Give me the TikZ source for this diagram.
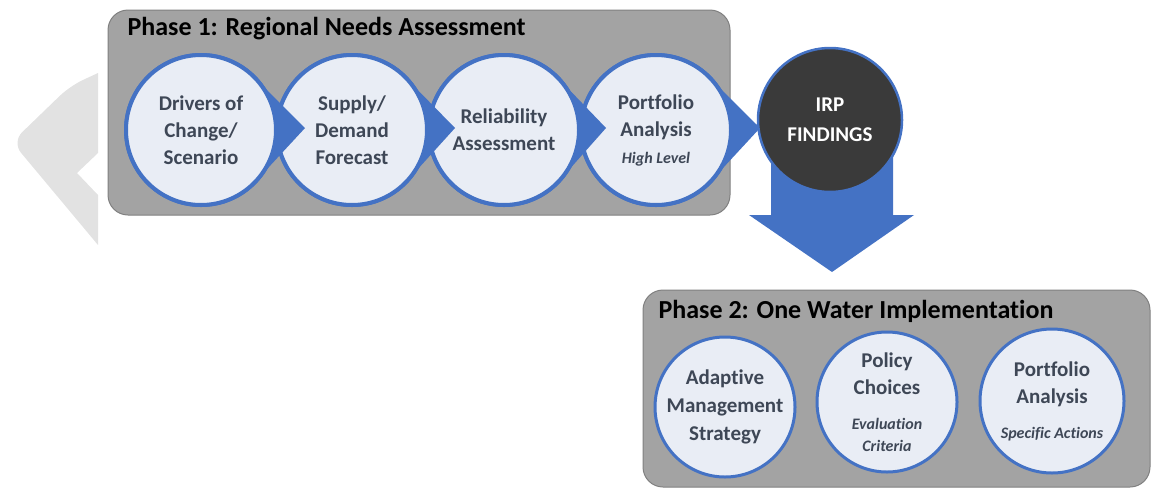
\documentclass[tikz,border=0pt]{standalone}
\usepackage{fontspec}
\setmainfont{Carlito}[Ligatures=NoCommon]
\usetikzlibrary{calc}

\definecolor{phgray}{HTML}{A3A3A3}
\definecolor{phline}{HTML}{808080}
\definecolor{stageblue}{HTML}{4472C4}
\definecolor{stagefill}{HTML}{E9EDF5}
\definecolor{txtgray}{HTML}{3E4756}
\definecolor{irpdark}{HTML}{3A3A3A}
\definecolor{chevgray}{HTML}{E2E2E2}

\newcommand{\subtxt}[1]{{\fontsize{16}{20}\selectfont\itshape #1}}

\begin{document}
\begin{tikzpicture}[x=1pt,y=-1pt,
  phasebox/.style={draw=phline, line width=1pt, fill=phgray, rounded corners=20pt},
  phtitle/.style={anchor=west, font=\fontsize{26}{30}\selectfont\bfseries, text=black},
  stage/.style={circle, draw=stageblue, fill=stagefill, line width=4pt, minimum size=150pt,
    inner sep=0pt, outer sep=0pt, align=center, text=txtgray, font=\fontsize{21}{27}\selectfont\bfseries},
  task/.style={stage, line width=3pt, minimum size=140pt},
  tipfill/.style={fill=stageblue}]
  \useasboundingbox (0,0) rectangle (1153,488);

  % grey chevron behind phase 1
  \fill[chevgray] (98,73) [rounded corners=14pt] -- (70,86) -- (12,142) [rounded corners=0pt] -- (98,245)
    -- (98,195) -- (77,173) -- (98,153) -- cycle;

  % phase boxes
  \draw[phasebox] (108,10) rectangle (730,215);
  \node[phtitle] (t1) at (124,29) {Phase 1: Regional Needs Assessment};
  \draw[phasebox] (643,290) rectangle (1150,487);
  \node[phtitle] (t2) at (655,311) {Phase 2: One Water Implementation};

  % phase 1 stages, right to left so each tip lies on the next circle
  \coordinate (p4) at (760,128);
  \node[stage] (s4) at (656,130) {};
  \fill[tipfill] (s4.42) -- (p4) -- (s4.-42) -- (s4.center) -- cycle;
  \node[stage] (s4) at (656,130) {Portfolio\\Analysis\\\subtxt{High Level}};

  \coordinate (p3) at (606,128);
  \node[stage] (s3) at (504,130) {};
  \fill[tipfill] (s3.42) -- (p3) -- (s3.-42) -- (s3.center) -- cycle;
  \node[stage] (s3) at (504,130) {Reliability\\Assessment};

  \coordinate (p2) at (455,128);
  \node[stage] (s2) at (352,130) {};
  \fill[tipfill] (s2.42) -- (p2) -- (s2.-42) -- (s2.center) -- cycle;
  \node[stage] (s2) at (352,130) {Supply/\\Demand\\Forecast};

  \coordinate (p1) at (305,128);
  \node[stage] (s1) at (201,130) {};
  \fill[tipfill] (s1.42) -- (p1) -- (s1.-42) -- (s1.center) -- cycle;
  \node[stage] (s1) at (201,130) {Drivers of\\Change/\\Scenario};

  % findings and the arrow down to phase 2
  \fill[stageblue] (771,150) -- (771,215) -- (749,215) -- (832,272) -- (914,215) -- (893,215) -- (893,150) -- cycle;
  \node[circle, draw=stageblue, fill=irpdark, line width=2.5pt, minimum size=144pt, align=center,
    text=white, font=\fontsize{21}{30}\selectfont\bfseries] (irp) at (830,120) {IRP\\FINDINGS};

  % phase 2 tasks
  \node[task] (a) at (725,407) {Adaptive\\[1pt]Management\\[1pt]Strategy};
  \node[task] (b) at (887,402) {Policy\\Choices\\[8pt]\subtxt{Evaluation}\\[-5pt]\subtxt{Criteria}};
  \node[task, minimum size=144pt] (c) at (1052,401) {Portfolio\\Analysis\\[8pt]\subtxt{Specific Actions}};
\end{tikzpicture}
\end{document}
